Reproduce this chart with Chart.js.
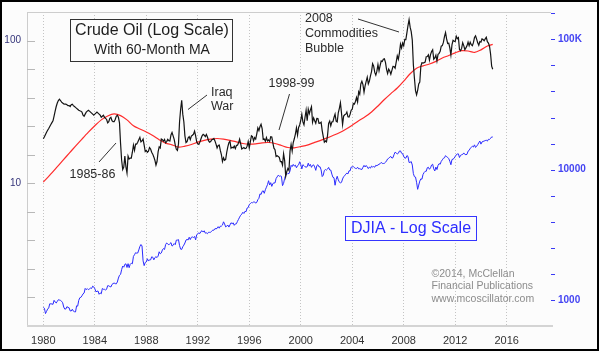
<!DOCTYPE html>
<html><head><meta charset="utf-8">
<script src="https://cdn.jsdelivr.net/npm/chart.js@4.4.1/dist/chart.umd.min.js"></script>
<style>html,body{margin:0;padding:0;background:#fcfcfc;overflow:hidden;} canvas{display:block;}</style>
</head><body>
<canvas id="c" width="600" height="353"></canvas>
<script>
const startYear = 1980;
// Crude oil, monthly (Jan 1980 .. Dec 2014)
const oilPrices = [
 20.5,21.2,22.0,22.8,23.5,24.2,25.0,25.8,26.6,27.4,29.5,32.0,
 34.5,36.5,38.0,38.8,38.0,37.0,36.5,36.0,35.8,35.8,35.5,35.0,
 35.0,34.5,35.5,35.8,35.0,34.5,34.0,33.5,33.0,32.5,32.2,32.0,
 31.5,30.0,29.5,30.5,31.5,32.0,32.5,32.0,31.5,31.0,30.5,30.0,
 30.5,31.0,31.5,31.0,30.5,30.0,29.0,29.5,30.0,29.0,28.5,28.0,
 26.5,27.0,28.5,29.0,27.5,27.0,27.0,28.0,29.5,30.0,29.0,26.5,
 19.0,14.5,12.5,13.0,15.5,13.0,11.8,15.5,14.8,15.0,15.0,16.5,
 18.5,17.0,18.8,18.8,19.4,20.2,21.0,19.5,19.8,20.4,18.5,16.7,
 17.0,16.5,16.8,17.8,17.4,16.5,16.0,15.3,14.5,13.4,14.2,16.6,
 18.0,17.7,20.4,20.2,19.7,20.3,19.2,19.6,20.3,19.9,19.8,21.8,
 22.7,21.5,20.3,18.5,17.3,17.0,18.8,27.0,33.0,38.2,30.5,27.0,
 21.5,19.3,19.6,20.8,21.2,20.2,21.4,21.7,22.1,23.2,21.5,19.5,
 18.9,18.7,19.5,20.5,21.5,22.0,21.7,21.2,22.0,21.1,19.9,19.4,
 19.6,20.2,20.3,20.6,19.8,18.8,17.7,18.4,18.5,17.0,15.9,14.2,
 15.1,14.5,14.7,16.5,18.0,19.2,19.7,17.6,17.9,17.7,18.2,17.5,
 18.4,18.5,19.2,20.4,18.9,17.4,17.6,17.8,17.5,17.6,18.2,19.6,
 17.7,19.5,21.5,21.2,19.8,20.9,20.4,22.2,24.4,23.4,25.0,25.9,
 24.2,20.3,20.4,19.7,20.9,19.8,20.1,19.6,21.2,21.1,19.2,17.6,
 17.2,15.4,15.6,15.4,15.2,14.2,14.2,13.4,16.1,14.4,11.2,12.1,
 12.7,12.3,16.8,18.7,16.8,19.3,20.5,22.1,24.5,21.8,24.6,25.6,
 27.6,30.4,26.9,25.7,29.0,32.5,27.4,33.1,30.8,32.7,34.4,26.8,
 28.7,27.4,26.3,28.5,28.4,26.3,26.4,26.8,23.4,21.2,19.4,19.8,
 19.5,21.7,26.3,27.3,25.3,26.9,27.0,28.9,30.5,27.2,26.9,31.2,
 33.5,36.6,31.0,25.8,29.6,30.2,30.5,31.6,29.2,29.1,30.4,32.5,
 33.0,36.2,35.8,37.4,39.9,37.1,43.8,42.1,49.6,51.8,49.1,43.5,
 48.2,51.8,55.4,49.7,52.0,56.5,60.6,68.9,66.2,59.8,57.3,61.0,
 67.9,61.4,66.6,71.9,71.3,73.9,74.4,70.3,62.9,58.7,63.1,61.1,
 58.1,61.8,65.9,65.7,64.0,70.7,78.2,74.0,81.7,94.5,88.7,96.0,
 91.8,101.8,101.6,113.5,127.4,140.0,124.1,115.5,100.6,67.8,54.4,44.6,
 41.7,44.8,49.7,51.1,66.3,69.9,69.5,70.0,70.6,77.0,77.3,79.4,
 72.9,79.7,83.8,86.2,74.0,75.6,79.0,71.9,80.0,81.4,84.1,91.4,
 92.2,97.0,106.7,113.9,102.7,95.4,95.7,88.8,79.2,93.2,100.4,98.8,
 98.5,107.1,103.0,104.9,86.5,85.0,88.1,96.5,92.2,86.2,88.9,91.8,
 97.5,92.0,97.2,93.5,92.0,96.6,105.0,107.7,102.3,96.4,92.7,98.4,
 97.5,102.6,101.6,99.7,102.7,105.4,98.2,96.0,91.2,80.5,66.2,63.0
];
// 60-month moving average of oil, read semi-annually (last point Dec 2014)
const maValues = [
 10.2,11.4, 12.8,14.4, 16.2,18.2, 20.4,22.8, 25.3,27.8, 29.6,30.6, 29.8,27.8,
 25.3,24.0, 22.9,21.6, 20.2,19.1, 18.6,17.9, 18.2,18.7, 19.4,20.0, 20.4,20.6,
 20.4,20.0, 19.5,19.0, 18.8,18.9, 19.2,19.3, 19.0,18.4, 17.8,17.7, 18.1,18.5,
 19.2,19.9, 20.7,21.6, 22.6,23.9, 25.5,27.4, 29.2,31.6, 34.8,38.6, 42.5,46.5,
 52.0,58.5, 64.0,66.5, 68.5,71.5, 75.5,78.5, 82.0,85.0, 84.5,82.5, 86.0,91.5,
 94.0
];
// DJIA, monthly (Jan 1980 .. Dec 2014)
const djiaValues = [
 876,863,786,817,851,868,935,933,932,925,993,964,
 947,975,1004,998,992,977,952,882,850,853,889,875,
 871,824,823,848,820,812,809,901,896,992,1039,1047,
 1076,1113,1130,1226,1200,1222,1199,1216,1233,1225,1276,1259,
 1221,1155,1165,1171,1105,1132,1115,1224,1207,1207,1189,1212,
 1287,1284,1267,1258,1315,1336,1348,1334,1329,1374,1472,1547,
 1571,1709,1819,1784,1877,1893,1775,1898,1768,1878,1914,1896,
 2158,2224,2305,2286,2292,2419,2572,2663,2596,1994,1834,1939,
 1958,2072,1988,2032,2031,2142,2129,2032,2113,2149,2115,2169,
 2342,2258,2294,2419,2480,2440,2661,2737,2693,2645,2706,2753,
 2591,2627,2707,2657,2877,2881,2905,2614,2453,2442,2560,2634,
 2736,2882,2914,2888,3028,2907,3025,3044,3017,3069,2895,3169,
 3224,3267,3236,3359,3397,3319,3394,3257,3272,3226,3306,3301,
 3310,3371,3435,3428,3527,3516,3540,3651,3555,3681,3684,3754,
 3978,3832,3636,3682,3758,3625,3765,3913,3843,3908,3739,3834,
 3844,4011,4158,4321,4465,4556,4709,4611,4789,4756,5075,5117,
 5395,5486,5588,5569,5643,5655,5529,5616,5882,6029,6522,6448,
 6813,6878,6584,7009,7331,7673,8223,7622,7945,7442,7823,7908,
 7907,8546,8800,9063,8900,8952,8883,7539,7843,8592,9117,9181,
 9359,9307,9786,10789,10560,10971,10655,10829,10337,10730,10878,11497,
 10941,10128,10922,10734,10522,10448,10522,11215,10651,10971,10415,10787,
 10887,10495,9879,10735,10912,10502,10523,9950,8848,9075,9852,10022,
 9920,10106,10404,9946,9925,9243,8737,8664,7592,8397,8896,8342,
 8054,7891,7992,8480,8850,8985,9234,9416,9275,9801,9782,10454,
 10488,10584,10358,10226,10188,10435,10140,10174,10080,10027,10428,10783,
 10490,10766,10504,10193,10467,10275,10641,10482,10569,10440,10806,10718,
 10865,10993,11109,11367,11168,11150,11186,11381,11679,12081,12222,12463,
 12622,12269,12354,13063,13628,13409,13212,13358,13896,13930,13372,13265,
 12650,12266,12263,12820,12638,11350,11378,11544,10851,9325,8829,8776,
 8001,7063,7609,8168,8500,8447,9172,9496,9712,9713,10345,10428,
 10067,10325,10857,11009,10137,9774,10466,10015,10788,11118,11006,11578,
 11892,12226,12320,12811,12570,12414,12143,11614,10913,11955,12046,12218,
 12633,12952,13212,13214,12393,12880,13009,13091,13437,13096,13026,13104,
 13861,14054,14579,14840,15116,14910,15500,14810,15130,15546,16086,16577,
 15699,16322,16458,16581,16717,16827,16563,17098,17043,17391,17828,17800
];
const yearTicks = [1980,1984,1988,1992,1996,2000,2004,2008,2012,2016];
const oilTickLabels = {1:'10', 2:'100'};
const djiaTickLabels = {3:'1000', 4:'10000', 5:'100K'};

const FONT = "'Liberation Sans', Arial, sans-serif";
const monthly = arr => arr.map((v,i)=>({x: startYear + i/12, y: v}));
const maPoints = maValues.map((v,i)=>({x: i < maValues.length-1 ? startYear + i/2 : 2014 + 11/12, y: v}));

function logTicks(lo, hi){ const t=[]; for(let k=Math.round(lo*5);k<=Math.round(hi*5);k++){ t.push({value: Math.pow(10,k/5)}); } return t; }
function labelFor(map, v){ const e=Math.log10(v); const r=Math.round(e); return Math.abs(e-r)<1e-6 && map[r] ? map[r] : ''; }

const decor = {
  id:'decor',
  beforeDraw(chart){ const c=chart.ctx; c.save(); c.fillStyle='#fcfcfc'; c.fillRect(0,0,chart.width,chart.height); c.restore(); },
  afterDraw(chart){
    const c=chart.ctx, a=chart.chartArea, sy=chart.scales.y, sy2=chart.scales.y2;
    c.save();
    // axis lines
    c.strokeStyle='#cdcdcd'; c.lineWidth=1;
    c.beginPath(); c.moveTo(a.left+0.5, a.top); c.lineTo(a.left+0.5, a.bottom); c.stroke();
    c.beginPath(); c.moveTo(a.left, a.top+0.5); c.lineTo(a.right-2, a.top+0.5); c.stroke();
    c.lineWidth=2; c.strokeStyle='#d4d4d4';
    c.beginPath(); c.moveTo(a.left, a.bottom); c.lineTo(a.right, a.bottom); c.stroke();
    // left ticks (inside)
    c.lineWidth=1; c.strokeStyle='#b8b8b8';
    sy.ticks.forEach(t=>{ const p=Math.round(sy.getPixelForValue(t.value))+0.5; if(p>a.top+2 && p<a.bottom-2){ c.beginPath(); c.moveTo(a.left, p); c.lineTo(a.left+8, p); c.stroke(); } });
    // right ticks
    c.strokeStyle='#3a3af5';
    sy2.ticks.forEach(t=>{ const p=Math.round(sy2.getPixelForValue(t.value))+0.5; if(p<a.bottom-2){ c.beginPath(); c.moveTo(a.right-2, p); c.lineTo(a.right+2, p); c.stroke(); } });

    // title box
    c.fillStyle='#fcfcfc'; c.fillRect(70,19,163,42);
    c.strokeStyle='#333'; c.lineWidth=1; c.strokeRect(70.5,19.5,162,42);
    c.fillStyle='#1e1e1e'; c.textAlign='center'; c.textBaseline='middle';
    c.font='16px '+FONT; c.fillText('Crude Oil (Log Scale)', 152, 31);
    c.font='14px '+FONT; c.fillText('With 60-Month MA', 152, 50);

    // annotations
    c.textAlign='left'; c.fillStyle='#2a2a2a'; c.font='12.5px '+FONT;
    c.fillText('Iraq', 211, 93); c.fillText('War', 211, 106.5);
    c.fillText('1998-99', 268.5, 83.5);
    c.fillText('1985-86', 69.5, 175);
    c.fillText('2008', 305, 18.5); c.fillText('Commodities', 305, 33.5); c.fillText('Bubble', 305, 48.5);
    c.strokeStyle='#333'; c.lineWidth=1;
    const seg=(x1,y1,x2,y2)=>{ c.beginPath(); c.moveTo(x1,y1); c.lineTo(x2,y2); c.stroke(); };
    seg(188,109.5,207,95);
    seg(289.5,94,279,130);
    seg(99,162,116,143);
    seg(358,19,399,32);

    // DJIA box
    c.fillStyle='#fcfcfc'; c.fillRect(345,216,132,25);
    c.strokeStyle='#3535ff'; c.strokeRect(345.5,216.5,131,24);
    c.fillStyle='#2d2dff'; c.textAlign='center'; c.font='16px '+FONT;
    c.fillText('DJIA - Log Scale', 411, 229);

    // credits
    c.textAlign='left'; c.fillStyle='#8c8c8c'; c.font='10.5px '+FONT;
    c.fillText('\u00A92014, McClellan', 431.5, 274);
    c.fillText('Financial Publications', 431.5, 286.5);
    c.fillText('www.mcoscillator.com', 431.5, 299);

    // outer frame
    c.strokeStyle='#000'; c.lineWidth=2; c.strokeRect(1,1,597,349);
    c.restore();
  }
};

new Chart(document.getElementById('c'), {
  type:'line',
  data:{ datasets:[
    {label:'Crude Oil', data: monthly(oilPrices), yAxisID:'y', borderColor:'#141414', borderWidth:1.2, pointRadius:0, tension:0},
    {label:'60-Month MA', data: maPoints, yAxisID:'y', borderColor:'#ff2b2b', borderWidth:1.2, pointRadius:0, tension:0.3},
    {label:'DJIA', data: monthly(djiaValues), yAxisID:'y2', borderColor:'#2b2bff', borderWidth:1, pointRadius:0, tension:0}
  ]},
  options:{
    responsive:false, animation:false, devicePixelRatio:1,
    layout:{padding:{top:10,left:0,right:0,bottom:0}},
    plugins:{legend:{display:false}, tooltip:{enabled:false}},
    scales:{
      x:{ type:'linear', min:1978.73, max:2019.6,
          afterBuildTicks: s=>{ s.ticks = yearTicks.map(v=>({value:v})); },
          afterFit: s=>{ s.height = 27; },
          ticks:{ autoSkip:false, maxRotation:0, padding:8, color:'#333', font:{family:FONT, size:11}, callback: v=>String(v) },
          grid:{ color:'#c4c4c4', drawTicks:false, lineWidth:1 },
          border:{ display:false, dash:[1,2] } },
      y:{ type:'logarithmic', position:'left', min:1, max:Math.pow(10,2.2),
          afterBuildTicks: s=>{ s.ticks = logTicks(0,2.2); },
          afterFit: s=>{ s.width = 27; },
          ticks:{ autoSkip:false, padding:6, color:'#34347a', font:{family:FONT, size:10}, callback: v=>labelFor(oilTickLabels, v) },
          grid:{ display:false, drawTicks:false }, border:{display:false} },
      y2:{ type:'logarithmic', position:'right', min:Math.pow(10,2.8), max:Math.pow(10,5.21),
          afterBuildTicks: s=>{ s.ticks = logTicks(3,5.2); },
          afterFit: s=>{ s.width = 47; },
          ticks:{ autoSkip:false, padding:5, color:'#4444f2', font:{family:FONT, size:10, weight:'bold'}, callback: v=>labelFor(djiaTickLabels, v) },
          grid:{ display:false, drawTicks:false }, border:{display:false} }
    }
  },
  plugins:[decor]
});
</script>
</body></html>
